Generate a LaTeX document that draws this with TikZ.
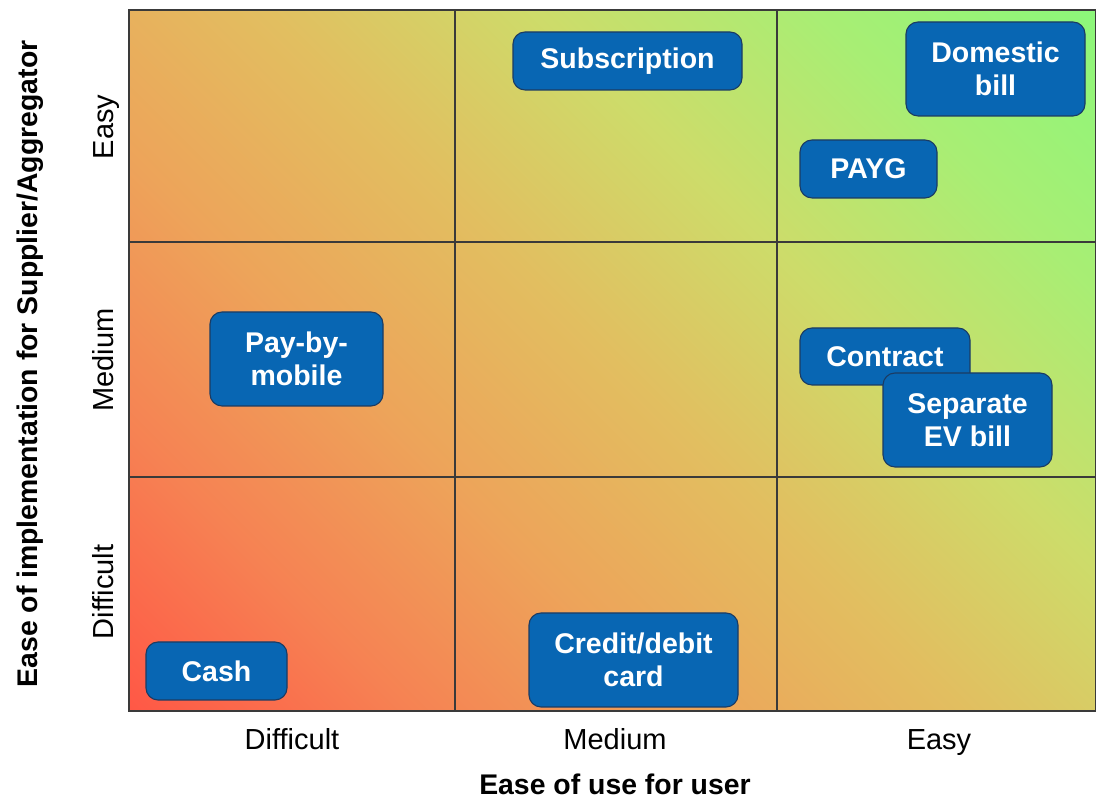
\documentclass[tikz,border=0pt]{standalone}
\usepackage{fontspec}
\setmainfont{Liberation Sans}
\definecolor{boxblue}{HTML}{0866B3}
\definecolor{boxedge}{HTML}{1B3B63}
\definecolor{gridline}{HTML}{3A3A3A}
\definecolor{g1}{HTML}{FF5846}
\definecolor{g2}{HTML}{F68253}
\definecolor{g3}{HTML}{EDA45A}
\definecolor{g4}{HTML}{E2BE60}
\definecolor{g5}{HTML}{CDDC6A}
\definecolor{g6}{HTML}{A8EE74}
\definecolor{g7}{HTML}{8CF77A}
\pgfdeclareverticalshading{matgrad}{100bp}{color(0bp)=(g1); color(14.6bp)=(g1); color(26.4bp)=(g2); color(38.2bp)=(g3); color(50bp)=(g4); color(61.8bp)=(g5); color(73.6bp)=(g6); color(85.4bp)=(g7); color(100bp)=(g7)}
\begin{document}
\begin{tikzpicture}[x=1pt,y=1pt,
  itembox/.style={draw=boxedge, line width=1.1pt, fill=boxblue, rounded corners=12pt,
    text=white, font=\fontsize{28.5}{33}\selectfont\bfseries, align=center, inner sep=0pt},
  axlabel/.style={font=\fontsize{29}{33}\selectfont, text=black, inner sep=0pt, anchor=base},
  axtitle/.style={font=\fontsize{28.4}{33}\selectfont\bfseries, text=black, inner sep=0pt, anchor=base}]
\useasboundingbox (0,0) rectangle (1096,800);
% background gradient
\shade[shading=matgrad, shading angle=-45] (129,89) rectangle (1096,790);
% grid
\draw[gridline, line width=1.2pt] (129,89) rectangle (1095.5,790);
\draw[gridline, line width=1.2pt] (455,89) -- (455,790);
\draw[gridline, line width=1.2pt] (777,89) -- (777,790);
\draw[gridline, line width=1.2pt] (129,558) -- (1096,558);
\draw[gridline, line width=1.2pt] (129,323) -- (1096,323);
% boxes
\node[itembox, minimum width=229pt, minimum height=58pt] (sub) at (627.5,739) {Subscription};
\node[itembox, minimum width=179pt, minimum height=94pt] (dom) at (995.5,731) {Domestic\\bill};
\node[itembox, minimum width=137pt, minimum height=58pt] (payg) at (868.5,631) {PAYG};
\node[itembox, minimum width=173pt, minimum height=94pt] (pbm) at (296.5,441) {Pay-by-\\mobile};
\node[itembox, minimum width=170pt, minimum height=57pt] (con) at (885,443.5) {Contract};
\node[itembox, minimum width=169pt, minimum height=94pt] (sep) at (967.5,380) {Separate\\EV bill};
\node[itembox, minimum width=141pt, minimum height=58pt] (cash) at (216.5,129) {Cash};
\node[itembox, minimum width=209pt, minimum height=94pt] (card) at (633.5,140) {Credit/debit\\card};
% axis labels
\node[axlabel] (xd) at (292,50) {Difficult};
\node[axlabel] (xm) at (615,50) {Medium};
\node[axlabel] (xe) at (939,50) {Easy};
\node[axtitle] (xt) at (615,5) {Ease of use for user};
\node[axlabel, rotate=90] (ye) at (113,673) {Easy};
\node[axlabel, rotate=90] (ym) at (113,440) {Medium};
\node[axlabel, rotate=90] (yd) at (113,208) {Difficult};
\node[axtitle, rotate=90] (yt) at (38,436) {Ease of implementation for Supplier/Aggregator};
\end{tikzpicture}
\end{document}
